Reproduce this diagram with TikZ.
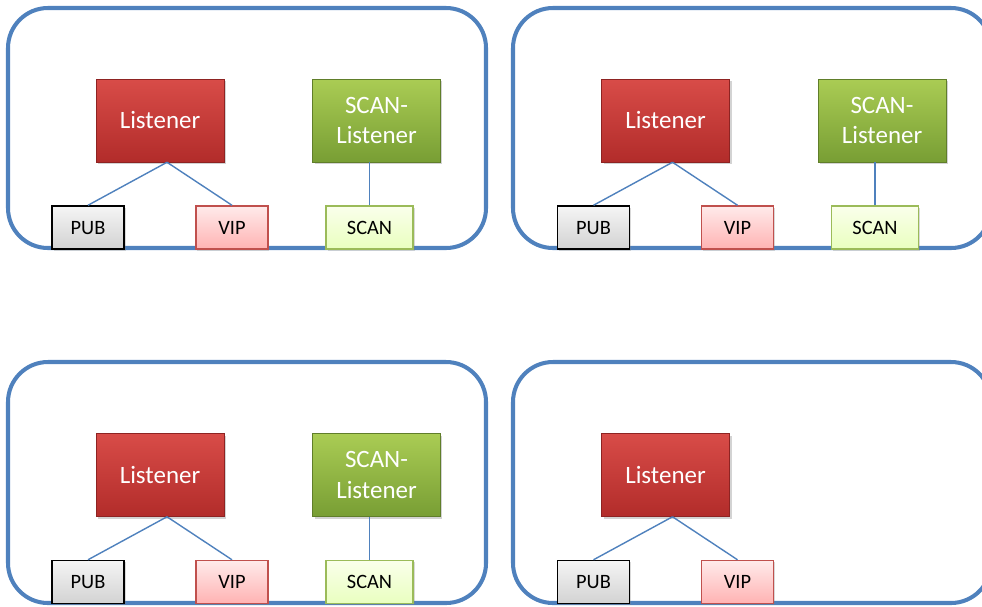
\documentclass[tikz,border=0pt]{standalone}
\usepackage{fontspec}
\setmainfont{Carlito}
\usepackage{tikz}
\usetikzlibrary{positioning, shadows}

\definecolor{framecol}{RGB}{79,129,189}
\definecolor{lsttop}{RGB}{216,76,72}
\definecolor{lstbot}{RGB}{178,44,42}
\definecolor{scltop}{RGB}{170,204,84}
\definecolor{sclbot}{RGB}{120,158,52}
\definecolor{vipline}{RGB}{192,80,77}
\definecolor{scanline}{RGB}{155,187,89}

\begin{document}
\begin{tikzpicture}[x=0.02cm, y=-0.02cm,
		frame/.style={draw=framecol, line width=2.3pt, rounded corners=0.8cm},
		lst/.style={rectangle, inner sep=0pt, minimum width=2.56cm, minimum height=1.66cm,
			top color=lsttop, bottom color=lstbot, draw=lstbot!80!black, line width=0.3pt,
			text=white, font=\fontsize{14.2}{17.5}\selectfont,
			drop shadow={opacity=0.35, shadow xshift=0.04cm, shadow yshift=-0.04cm}},
		scl/.style={lst, top color=scltop, bottom color=sclbot, draw=sclbot!80!black, align=center},
		addr/.style={rectangle, inner sep=0pt, minimum width=1.44cm, minimum height=0.86cm,
			line width=0.9pt, font=\fontsize{11.6}{13}\selectfont,
			drop shadow={opacity=0.3, shadow xshift=0.03cm, shadow yshift=-0.03cm}},
		pub/.style={addr, draw=black, top color=gray!8, bottom color=gray!35},
		vip/.style={addr, draw=vipline, top color=red!8, bottom color=red!30},
		scan/.style={addr, draw=scanline, top color=green!25!yellow!8, bottom color=green!35!yellow!25, minimum width=1.74cm},
		link/.style={draw=framecol, line width=0.8pt}]

		\clip (0,0) rectangle (982,606);

		% frames
		\draw[frame] (8,8) rectangle (486,248);
		\draw[frame] (513,8) rectangle (991,248);
		\draw[frame] (8,362) rectangle (486,603);
		\draw[frame] (513,362) rectangle (991,603);

		% top left
		\node[lst] (1-lst) at (160,120.5) {Listener};
		\node[scl] (1-scl) at (376.5,120.5) {SCAN-\\Listener};
		\node[pub, below = 0.86cm of 1-lst, xshift=-1.44cm] (1-pub) {PUB};
		\node[vip, below = 0.86cm of 1-lst, xshift=1.44cm] (1-vip) {VIP};
		\node[scan, below = 0.86cm of 1-scl, xshift=-0.14cm] (1-scan) {SCAN};

		\draw[link] ([xshift=0.14cm]1-lst.south) -- (1-pub.north);
		\draw[link] ([xshift=0.14cm]1-lst.south) -- (1-vip.north);
		\draw[link] (1-scan.north |- 1-scl.south) -- (1-scan.north);

		% top right
		\node[lst] (2-lst) at (665.5,120.5) {Listener};
		\node[scl] (2-scl) at (882,120.5) {SCAN-\\Listener};
		\node[pub, below = 0.86cm of 2-lst, xshift=-1.44cm] (2-pub) {PUB};
		\node[vip, below = 0.86cm of 2-lst, xshift=1.44cm] (2-vip) {VIP};
		\node[scan, below = 0.86cm of 2-scl, xshift=-0.14cm] (2-scan) {SCAN};

		\draw[link] ([xshift=0.14cm]2-lst.south) -- (2-pub.north);
		\draw[link] ([xshift=0.14cm]2-lst.south) -- (2-vip.north);
		\draw[link] (2-scan.north |- 2-scl.south) -- (2-scan.north);

		% bottom left
		\node[lst] (3-lst) at (160,475) {Listener};
		\node[scl] (3-scl) at (376.5,475) {SCAN-\\Listener};
		\node[pub, below = 0.86cm of 3-lst, xshift=-1.44cm] (3-pub) {PUB};
		\node[vip, below = 0.86cm of 3-lst, xshift=1.44cm] (3-vip) {VIP};
		\node[scan, below = 0.86cm of 3-scl, xshift=-0.14cm] (3-scan) {SCAN};

		\draw[link] ([xshift=0.14cm]3-lst.south) -- (3-pub.north);
		\draw[link] ([xshift=0.14cm]3-lst.south) -- (3-vip.north);
		\draw[link] (3-scan.north |- 3-scl.south) -- (3-scan.north);

		% bottom right
		\node[lst] (4-lst) at (665.5,475) {Listener};
		\node[pub, below = 0.86cm of 4-lst, xshift=-1.44cm] (4-pub) {PUB};
		\node[vip, below = 0.86cm of 4-lst, xshift=1.44cm] (4-vip) {VIP};

		\draw[link] ([xshift=0.14cm]4-lst.south) -- (4-pub.north);
		\draw[link] ([xshift=0.14cm]4-lst.south) -- (4-vip.north);
\end{tikzpicture}
\end{document}
